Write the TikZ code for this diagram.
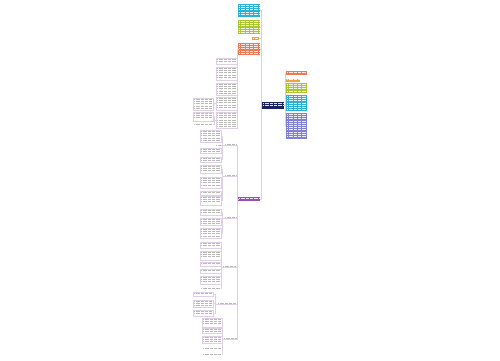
\documentclass[tikz,border=0pt]{standalone}
\usepackage{tikz}
\usetikzlibrary{positioning, calc}

\definecolor{mmcyan}{RGB}{43,176,214}
\definecolor{mmgreen}{RGB}{169,197,48}
\definecolor{mmorange}{RGB}{245,160,58}
\definecolor{mmred}{RGB}{240,118,84}
\definecolor{mmnavy}{RGB}{28,35,96}
\definecolor{mmpurple}{RGB}{154,79,176}
\definecolor{mmperi}{RGB}{127,127,212}
\definecolor{mmline}{RGB}{222,208,228}

% n lines of "text" inside a node
\newcommand{\txtlines}[3]{%
  \foreach \k in {1,...,#2}{%
    \draw[#3] ($(#1.north west)+(1.2,1.3+\k*2.2-2.2)$) -- ($(#1.north east)+(-1.2,1.3+\k*2.2-2.2)$);}}

\begin{document}
\begin{tikzpicture}[
    x=1pt, y=-1pt,
    sz/.style 2 args={minimum width=#1pt, minimum height=#2pt},
    cbox/.style={rectangle, anchor=north west, inner sep=0pt, draw=none},
    wbox/.style={rectangle, anchor=north west, inner sep=0pt, draw=mmline, line width=0.3pt, fill=white},
    lbl/.style={rectangle, anchor=north west, inner sep=0pt, draw=none},
    link/.style={draw=mmline, line width=0.5pt},
    wtxt/.style={white, opacity=0.85, line width=0.65pt, dash pattern=on 0.9pt off 0.4pt},
    gtxt/.style={gray!55, line width=0.55pt, dash pattern=on 0.9pt off 0.4pt}
]
\useasboundingbox[fill=white] (0,0) rectangle (500,360);

% centre
\node[cbox, fill=mmnavy, sz={22}{7}] (ctr) at (262,102) {};

% left, coloured
\node[cbox, fill=mmcyan, sz={22}{13}] (topA) at (238,4) {};
\node[cbox, fill=mmgreen, sz={22}{14}] (topB) at (238,20) {};
\node[cbox, fill=mmorange, sz={7}{3}] (topC) at (252,37) {};
\node[cbox, fill=mmred, sz={22}{12}] (topD) at (238,43) {};
\node[cbox, fill=mmpurple, sz={22}{4}] (pur) at (238,197) {};

% right, coloured
\node[cbox, fill=mmred, sz={21}{4}] (rA) at (286,71) {};
\node[cbox, fill=mmorange, sz={14}{3.5}] (rB) at (286,78.5) {};
\node[cbox, fill=mmgreen, sz={21}{10}] (rC) at (286,83) {};
\node[cbox, fill=mmcyan, sz={21}{16}] (rD) at (286,95) {};
\node[cbox, fill=mmperi, sz={21}{26}] (rE) at (286,113) {};

% under topD
\node[wbox, sz={21}{6}] (w1) at (216,58) {};
\node[wbox, sz={21}{13}] (w2) at (216,67) {};
\node[wbox, sz={21}{12}] (w3) at (216,83) {};
\node[wbox, sz={21}{13}] (w4) at (216,97) {};
\node[wbox, sz={21}{16}] (w5) at (216,112) {};
\node[wbox, sz={20}{12}] (w6) at (193,98) {};
\node[wbox, sz={20}{9}] (w7) at (193,112) {};
\node[lbl, sz={20}{2.5}] (w8) at (193,123) {};

% branch labels under pur
\node[lbl, sz={13}{2.5}] (s1) at (224,142.5) {};
\node[lbl, sz={13}{2.5}] (s2) at (224,173.5) {};
\node[lbl, sz={13}{2.5}] (s3) at (224,215.5) {};
\node[lbl, sz={15}{2.5}] (s4) at (222,264.5) {};
\node[lbl, sz={20}{2.5}] (s5) at (217,301.5) {};
\node[lbl, sz={14}{2.5}] (s6) at (223,336.5) {};

\node[wbox, sz={21}{12}] (a1) at (200,130) {};
\node[lbl, sz={6}{2.5}] (a2) at (215,144) {};
\node[wbox, sz={21}{5}] (a3) at (200,148) {};
\node[wbox, sz={21}{5}] (a4) at (200,157) {};

\node[wbox, sz={21}{8}] (b1) at (200,165) {};
\node[wbox, sz={21}{11}] (b2) at (200,177) {};
\node[wbox, sz={21}{3.5}] (b3) at (200,191) {};
\node[wbox, sz={21}{9}] (b4) at (200,196) {};

\node[wbox, sz={21}{6}] (c1) at (200,209) {};
\node[wbox, sz={21}{7}] (c2) at (200,218) {};
\node[wbox, sz={21}{10}] (c3) at (200,228) {};

\node[wbox, sz={21}{6}] (d1) at (200,242) {};
\node[wbox, sz={21}{9}] (d2) at (200,251) {};
\node[wbox, sz={21}{4}] (d3) at (200,262) {};
\node[wbox, sz={21}{4}] (d4) at (200,269) {};
\node[wbox, sz={21}{8}] (d5) at (200,276) {};
\node[lbl, sz={21}{2.5}] (d6) at (200,287) {};

\node[wbox, sz={20}{4}] (e1) at (193,292) {};
\node[wbox, sz={20}{7}] (e2) at (193,300) {};
\node[wbox, sz={20}{6}] (e3) at (193,310) {};

\node[wbox, sz={20}{9}] (f1) at (202,318) {};
\node[wbox, sz={20}{5}] (f2) at (202,328) {};
\node[wbox, sz={20}{7}] (f3) at (202,336) {};
\node[lbl, sz={20}{2.5}] (f4) at (202,347) {};
\node[lbl, sz={20}{2.5}] (f5) at (202,353) {};

% connectors
\foreach \n in {topA,topB,topC,topD,pur}
  \draw[link] (ctr.west) -- ++(-1,0) |- (\n.east);
\foreach \n in {rA,rB,rC,rD,rE}
  \draw[link] (ctr.east) -- ++(1,0) |- (\n.west);
\foreach \n in {w1,w2,w3,w4,w5}
  \draw[link] (topD.west) -- ++(-0.5,0) |- (\n.east);
\draw[link] (w4.west) -- ++(-1.5,0) |- (w6.east);
\foreach \n in {w7,w8}
  \draw[link] (w5.west) -- ++(-1.5,0) |- (\n.east);
\foreach \n in {s1,s2,s3,s4,s5,s6}{
  \draw[link] (pur.west) -- ++(-0.5,0) |- (\n.south east);
  \draw[link] (\n.south west) -- (\n.south east);}
\foreach \n in {a1,a2,a3,a4}
  \draw[link] (s1.south west) -- ++(-1.5,0) |- (\n.east);
\foreach \n in {b1,b2,b3,b4}
  \draw[link] (s2.south west) -- ++(-1.5,0) |- (\n.east);
\foreach \n in {c1,c2,c3}
  \draw[link] (s3.south west) -- ++(-1.5,0) |- (\n.east);
\foreach \n in {d1,d2,d3,d4,d5,d6}
  \draw[link] (s4.south west) -- ++(-0.5,0) |- (\n.east);
\foreach \n in {e1,e2,e3}
  \draw[link] (s5.south west) -- ++(-2,0) |- (\n.east);
\foreach \n in {f1,f2,f3,f4,f5}
  \draw[link] (s6.south west) -- ++(-0.5,0) |- (\n.east);

% text lines
\txtlines{ctr}{2}{wtxt}
\txtlines{topA}{5}{wtxt}
\txtlines{topB}{6}{wtxt}
\txtlines{topC}{1}{wtxt}
\txtlines{topD}{5}{wtxt}
\txtlines{pur}{1}{wtxt}
\txtlines{rA}{1}{wtxt}
\txtlines{rB}{1}{wtxt}
\txtlines{rC}{4}{wtxt}
\txtlines{rD}{7}{wtxt}
\txtlines{rE}{11}{wtxt}
\foreach \n/\m in {w1/2,w2/5,w3/5,w4/5,w5/7,w6/5,w7/3,w8/1,
  s1/1,s2/1,s3/1,s4/1,s5/1,s6/1,
  a1/5,a2/1,a3/2,a4/2,b1/3,b2/4,b3/1,b4/3,c1/2,c2/3,c3/4,
  d1/2,d2/3,d3/1,d4/1,d5/3,d6/1,e1/1,e2/3,e3/2,
  f1/3,f2/2,f3/3,f4/1,f5/1}
  {\txtlines{\n}{\m}{gtxt}}
\end{tikzpicture}
\end{document}
